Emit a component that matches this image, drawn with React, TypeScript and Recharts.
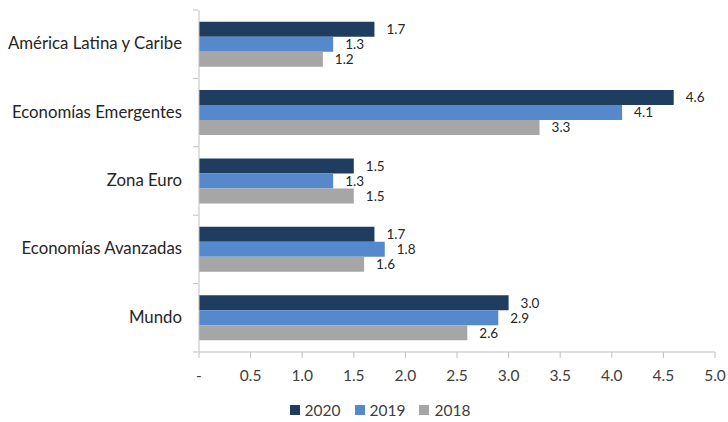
import { BarChart, Bar, XAxis, YAxis, LabelList } from 'recharts'

/* ---------- data ---------- */

const regions = ['América Latina y Caribe', 'Economías Emergentes', 'Zona Euro', 'Economías Avanzadas', 'Mundo']
const growth2020 = [1.7, 4.6, 1.5, 1.7, 3.0]
const growth2019 = [1.3, 4.1, 1.3, 1.8, 2.9]
const growth2018 = [1.2, 3.3, 1.5, 1.6, 2.6]
const xTicks = [0, 0.5, 1, 1.5, 2, 2.5, 3, 3.5, 4, 4.5, 5]

const data = regions.map((region, i) => ({
  region,
  y2020: growth2020[i],
  y2019: growth2019[i],
  y2018: growth2018[i],
}))

/* ---------- style ---------- */

const FONT = 'Lato, "Open Sans", sans-serif'
const AXIS = '#BFBFBF'
const C2020 = '#1F3D5E'
const C2019 = '#5589CB'
const C2018 = '#A6A6A6'

const W = 728
const H = 422
const X_AXIS_H = 30
const M = { top: 10, right: 13, bottom: 40, left: 0 }
const BAND = (H - M.top - M.bottom - X_AXIS_H) / regions.length

// category tick: label at centre, short tick marks at band edges (Excel style)
// eslint-disable-next-line @typescript-eslint/no-explicit-any
const RegionTick = (props: any) => {
  const { x, y, payload, index } = props
  const top = y - BAND / 2
  const bottom = y + BAND / 2
  return (
    <g>
      <line x1={x + 2} x2={x + 7} y1={top} y2={top} stroke={AXIS} />
      {index === regions.length - 1 && <line x1={x + 2} x2={x + 7} y1={bottom} y2={bottom} stroke={AXIS} />}
      <text x={x - 9} y={y} dy={5} textAnchor="end" fontSize={16.8} fill="#262626" fontFamily={FONT}>
        {payload.value}
      </text>
    </g>
  )
}

const fmtTick = (v: number) => (v === 0 ? '-' : v.toFixed(1))
const fmtVal = (v: number) => v.toFixed(1)

const LegendBox = () => (
  <div
    style={{
      position: 'absolute', left: 0, right: 0, top: 401, display: 'flex', justifyContent: 'center',
      gap: 14, fontFamily: FONT, fontSize: 15.5, color: '#404040', paddingLeft: 32,
    }}
  >
    {[['2020', C2020], ['2019', C2019], ['2018', C2018]].map(([name, c]) => (
      <span key={name} style={{ display: 'flex', alignItems: 'center', gap: 5 }}>
        <span style={{ width: 10, height: 10, background: c, display: 'inline-block' }} />
        {name}
      </span>
    ))}
  </div>
)

const labelStyle = { fontSize: 13.5, fill: '#262626', fontFamily: FONT }

export default function App() {
  return (
    <div style={{ position: 'fixed', left: 0, top: 0, width: W, height: H, background: '#fff', overflow: 'hidden' }}>
      <BarChart
        width={W}
        height={H}
        data={data}
        layout="vertical"
        margin={M}
        barGap={0}
        barCategoryGap="17%"
      >
        <XAxis
          type="number"
          domain={[0, 5]}
          ticks={xTicks}
          tickFormatter={fmtTick}
          height={X_AXIS_H}
          axisLine={{ stroke: AXIS }}
          tickLine={{ stroke: AXIS }}
          tickSize={6}
          tickMargin={12}
          tick={{ fontSize: 15.5, fill: '#404040', fontFamily: FONT }}
          interval={0}
        />
        <YAxis
          type="category"
          dataKey="region"
          width={199}
          axisLine={{ stroke: AXIS }}
          tickLine={false}
          tick={<RegionTick />}
          interval={0}
        />
        <Bar dataKey="y2020" name="2020" fill={C2020} isAnimationActive={false}>
          <LabelList dataKey="y2020" position="right" offset={12} formatter={fmtVal} style={labelStyle} />
        </Bar>
        <Bar dataKey="y2019" name="2019" fill={C2019} isAnimationActive={false}>
          <LabelList dataKey="y2019" position="right" offset={12} formatter={fmtVal} style={labelStyle} />
        </Bar>
        <Bar dataKey="y2018" name="2018" fill={C2018} isAnimationActive={false}>
          <LabelList dataKey="y2018" position="right" offset={12} formatter={fmtVal} style={labelStyle} />
        </Bar>
      </BarChart>
      <LegendBox />
    </div>
  )
}
